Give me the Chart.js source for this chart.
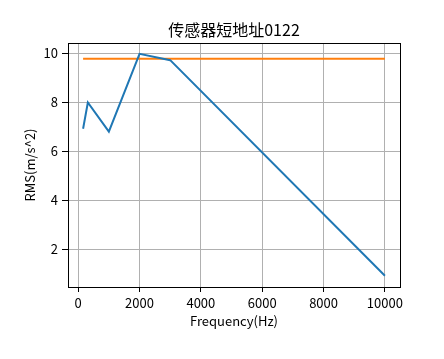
<!DOCTYPE html>
<html>
<head>
<meta charset="utf-8">
<script src="https://cdn.jsdelivr.net/npm/chart.js@4/dist/chart.umd.min.js"></script>
<style>
  html, body { margin: 0; padding: 0; background: #fff; }
</style>
</head>
<body>
<canvas id="myChart" width="444" height="359"></canvas>
<script>
const chartTitle = '传感器短地址0122';
const frequency = [160, 315, 1000, 2000, 3000, 10000];
const rmsValues = [6.91, 7.98, 6.79, 9.97, 9.71, 0.91];
const thresholdX = [160, 10000];
const thresholdY = [9.77, 9.77];
const xTicks = [0, 2000, 4000, 6000, 8000, 10000];
const yTicks = [2, 4, 6, 8, 10];

const fontFamily = '"Noto Sans CJK SC", "DejaVu Sans", sans-serif';

const frame = {
  id: 'frame',
  afterDraw(chart) {
    const { ctx, chartArea: a } = chart;
    ctx.save();
    ctx.strokeStyle = '#000';
    ctx.lineWidth = 1;
    ctx.strokeRect(Math.round(a.left) + 0.5, Math.round(a.top) + 0.5,
      Math.round(a.right - a.left), Math.round(a.bottom - a.top));
    ctx.fillStyle = '#000';
    ctx.font = '16px ' + fontFamily;
    ctx.textAlign = 'center';
    ctx.textBaseline = 'middle';
    ctx.fillText(chartTitle, (a.left + a.right) / 2, 30);
    ctx.restore();
  }
};

const ctx = document.getElementById('myChart').getContext('2d');
new Chart(ctx, {
  type: 'line',
  data: {
    datasets: [{
      data: frequency.map((f, i) => ({ x: f, y: rmsValues[i] })),
      borderColor: '#1f77b4',
      borderWidth: 2,
      pointRadius: 0,
      tension: 0
    }, {
      data: thresholdX.map((f, i) => ({ x: f, y: thresholdY[i] })),
      borderColor: '#ff7f0e',
      borderWidth: 2,
      pointRadius: 0,
      tension: 0
    }]
  },
  options: {
    responsive: false,
    animation: false,
    layout: { padding: { left: 0, right: 44, top: 43, bottom: 0 } },
    plugins: { legend: { display: false }, tooltip: { enabled: false } },
    scales: {
      x: {
        type: 'linear',
        min: -332,
        max: 10492,
        afterBuildTicks: s => { s.ticks = xTicks.map(v => ({ value: v })); },
        afterFit: s => { s.height = 72; },
        grid: { color: '#b0b0b0', tickColor: '#000', tickLength: 5, lineWidth: 1 },
        border: { display: false },
        ticks: { color: '#000', padding: 3, font: { family: fontFamily, size: 13 }, maxRotation: 0,
          callback: v => String(v) },
        title: { display: true, text: 'Frequency(Hz)', color: '#000',
          font: { family: fontFamily, size: 13 }, padding: { top: 0, bottom: 30 } }
      },
      y: {
        min: 0.45,
        max: 10.41,
        afterBuildTicks: s => { s.ticks = yTicks.map(v => ({ value: v })); },
        afterFit: s => { s.width = 68; },
        grid: { color: '#b0b0b0', tickColor: '#000', tickLength: 6, lineWidth: 1 },
        border: { display: false },
        ticks: { color: '#000', padding: 4, font: { family: fontFamily, size: 13 },
          callback: v => String(v) },
        title: { display: true, text: 'RMS(m/s^2)', color: '#000',
          font: { family: fontFamily, size: 13 }, padding: { top: 22, bottom: 0 } }
      }
    }
  },
  plugins: [frame]
});
</script>
</body>
</html>
